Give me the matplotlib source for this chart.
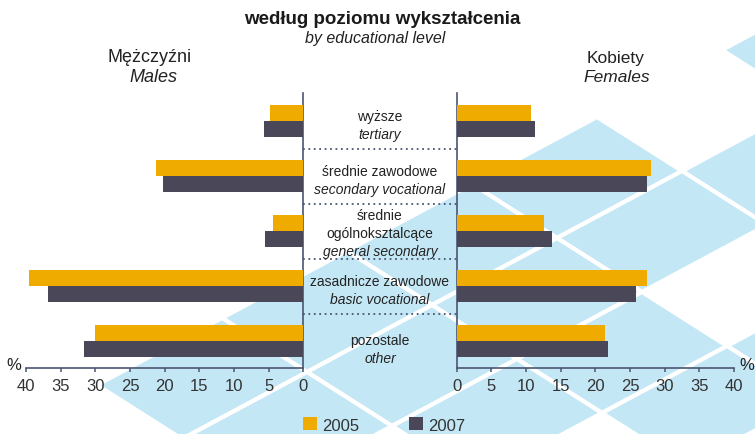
import matplotlib
matplotlib.use('Agg')
import matplotlib.pyplot as plt
from matplotlib.patches import Polygon, Patch
from matplotlib import font_manager
import numpy as np

# ---------------- data ----------------
categories_pl = ['wyższe', 'średnie zawodowe', 'średnie\nogólnoksztalcące',
                 'zasadnicze zawodowe', 'pozostale']
categories_en = ['tertiary', 'secondary vocational', 'general secondary',
                 'basic vocational', 'other']
years = ['2005', '2007']
males_2005 = [4.8, 21.2, 4.4, 39.5, 30.0]
males_2007 = [5.7, 20.3, 5.5, 36.8, 31.7]
females_2005 = [10.7, 28.0, 12.6, 27.5, 21.4]
females_2007 = [11.3, 27.4, 13.7, 25.9, 21.8]
x_ticks = [0, 5, 10, 15, 20, 25, 30, 35, 40]
title_pl = 'według poziomu wykształcenia'
title_en = 'by educational level'
left_pl, left_en = 'Mężczyźni', 'Males'
right_pl, right_en = 'Kobiety', 'Females'

# ---------------- style ----------------
ORANGE = '#f0ab00'
DARK = '#4a4759'
SPINE = '#4b5572'
TXT = '#222222'
BLUE = '#c4e7f6'
W, H = 755, 435

plt.rcParams['font.family'] = ['Liberation Sans', 'DejaVu Sans']
names = {f.name for f in font_manager.fontManager.ttflist}
if 'Liberation Sans Narrow' in names:
    lab_family, lab_size = ['Liberation Sans Narrow', 'Liberation Sans'], 11.5
else:
    lab_family, lab_size = ['Liberation Sans', 'DejaVu Sans'], 10

fig = plt.figure(figsize=(W / 100, H / 100), dpi=100)
fig.patch.set_facecolor('white')

# ---------------- decorative background ----------------
bg = fig.add_axes([0, 0, 1, 1], zorder=-10)
bg.set_xlim(0, W)
bg.set_ylim(H, 0)
bg.axis('off')
O = np.array([472.0, 185.0])
u = np.array([125.0, -67.0])
v = np.array([85.0, 54.0])


def P(i, j):
    return O + i * u + j * v


tiles = [(0, 0), (2, 0), (1, 1), (0, 1), (-1, 0), (-1, 1), (-2, 0),
         (-2, 1), (-3, 0), (-1, 2), (0, 3), (-1, 3), (-2, 2), (-3, 1)]
for (i, j) in tiles:
    pts = [P(i, j), P(i + 1, j), P(i + 1, j + 1), P(i, j + 1)]
    bg.add_patch(Polygon(pts, closed=True, facecolor=BLUE, edgecolor='white',
                         linewidth=3.0))

# ---------------- axes geometry (pixels) ----------------
def frac_box(x0, x1, ytop, ybot):
    return [x0 / W, 1 - ybot / H, (x1 - x0) / W, (ybot - ytop) / H]


ytop, ybot = 94, 369
axL = fig.add_axes(frac_box(26, 303.3, ytop, ybot))
axC = fig.add_axes(frac_box(303.3, 456.7, ytop, ybot))
axR = fig.add_axes(frac_box(456.7, 734, ytop, ybot))

n = len(categories_pl)
y = np.arange(n)
h = 0.29
ylim = (n - 1 + 0.49, -0.51)

for ax in (axL, axC, axR):
    ax.set_facecolor('none')
    ax.set_ylim(*ylim)

# left (males)
axL.barh(y - h / 2, males_2005, height=h, color=ORANGE, zorder=3)
axL.barh(y + h / 2, males_2007, height=h, color=DARK, zorder=3)
axL.set_xlim(40, 0)
# right (females)
axR.barh(y - h / 2, females_2005, height=h, color=ORANGE, zorder=3)
axR.barh(y + h / 2, females_2007, height=h, color=DARK, zorder=3)
axR.set_xlim(0, 40)

for ax, keep in ((axL, 'right'), (axR, 'left')):
    for s in ('top', 'left', 'right', 'bottom'):
        ax.spines[s].set_visible(s in (keep, 'bottom'))
        ax.spines[s].set_color(SPINE)
        ax.spines[s].set_linewidth(1.2)
    ax.set_yticks([])
    ax.set_xticks(x_ticks)
    ax.set_xticklabels([str(t) for t in x_ticks])
    ax.tick_params(axis='x', direction='out', length=3, width=1.1,
                   color=SPINE, labelsize=12, labelcolor='#333333', pad=4)

# centre panel: separators and labels
axC.set_xlim(0, 1)
axC.axis('off')
for k in range(n - 1):
    axC.axhline(k + 0.5, color=SPINE, linewidth=1.3, linestyle=(0, (1, 2)))

step = 0.327
for k in range(n):
    pl_lines = categories_pl[k].split('\n')
    nlines = len(pl_lines) + 1
    centre = k + (0.04 if nlines == 3 else 0.08)
    if k == n - 1:
        centre = k + 0.14
    start = centre - step * (nlines - 1) / 2
    for m, line in enumerate(pl_lines):
        axC.text(0.5, start + m * step, line, ha='center', va='center',
                 fontsize=lab_size, family=lab_family, color=TXT)
    axC.text(0.5, start + (nlines - 1) * step, categories_en[k], ha='center',
             va='center', fontsize=lab_size, family=lab_family,
             style='italic', color=TXT)

# ---------------- headings ----------------
def ftext(px, py, s, color=TXT, **kw):
    fig.text(px / W, 1 - py / H, s, ha='center', va='center', color=color, **kw)


ftext(382, 19, title_pl, fontsize=13.5, weight='bold', color='#1a1a1a')
ftext(375, 38, title_en, fontsize=11.5, style='italic')
ftext(150, 58, left_pl, fontsize=13)
ftext(153, 77, left_en, fontsize=13, style='italic')
ftext(616, 58, right_pl, fontsize=12.5)
ftext(617, 77, right_en, fontsize=12.5, style='italic')
ftext(14, 366, '%', fontsize=12)
ftext(747, 366, '%', fontsize=12)

# ---------------- legend ----------------
handles = [Patch(facecolor=ORANGE, edgecolor='none'),
           Patch(facecolor=DARK, edgecolor='none')]
fig.legend(handles, years, loc='center', bbox_to_anchor=(384 / W, 1 - 426 / H),
           ncol=2, frameon=False, fontsize=12, handlelength=0.85,
           handleheight=0.8, handletextpad=0.3, columnspacing=3.0,
           labelcolor='#333333', borderpad=0, borderaxespad=0)

fig.savefig('out.png', dpi=100, facecolor='white')
